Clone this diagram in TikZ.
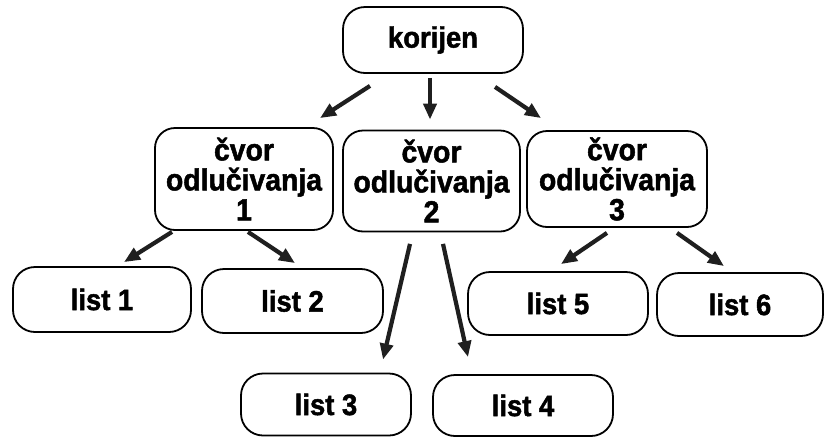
\documentclass[tikz,border=0pt]{standalone}
\usepackage{fontspec}
\setmainfont{Liberation Sans}
\newfontfamily\labelfont[FakeBold=1.6, FakeStretch=0.93]{Liberation Sans Bold}
\usetikzlibrary{arrows.meta}
\tikzset{
  box/.style={draw=black, line width=1.8pt, rounded corners=22pt, align=center,
    inner sep=0pt, font=\labelfont\fontsize{29.5}{30}\selectfont},
  decision/.style={box, rounded corners=20pt, font=\labelfont\fontsize{30.5}{30}\selectfont},
  arr/.style={draw=black!88, line width=4.2pt,
    -{Triangle[length=16pt,width=13pt]}},
}
\begin{document}
\begin{tikzpicture}[x=1pt,y=-1pt]
\useasboundingbox (0,0) rectangle (825,437);
% root
\node[box, minimum width=180pt, minimum height=66pt] (k) at (433,40) {korijen};
% decision nodes
\node[decision, minimum width=178pt, minimum height=102pt] (c1) at (244,179)
  {čvor\\odlučivanja\\1};
\node[decision, minimum width=177pt, minimum height=101pt] (c2) at (431.5,181)
  {čvor\\odlučivanja\\2};
\node[decision, minimum width=180pt, minimum height=96pt] (c3) at (617,179)
  {čvor\\odlučivanja\\3};
% leaves
\node[box, minimum width=178pt, minimum height=65pt] (l1) at (102,299.5) {list 1};
\node[box, minimum width=181pt, minimum height=64pt] (l2) at (292.5,301) {list 2};
\node[box, minimum width=170pt, minimum height=62pt] (l3) at (326,404.5) {list 3};
\node[box, minimum width=180pt, minimum height=61pt] (l4) at (523,405.5) {list 4};
\node[box, minimum width=180pt, minimum height=63pt] (l5) at (558,303.5) {list 5};
\node[box, minimum width=166pt, minimum height=63pt] (l6) at (740,304.5) {list 6};
% connectors
\draw[arr] ([shift={(-63pt,-12pt)}]k.south) -- ([shift={(76pt,9pt)}]c1.north);
\draw[arr] ([shift={(-3pt,-4pt)}]k.south) -- ([shift={(-1.5pt,10pt)}]c2.north);
\draw[arr] ([shift={(62pt,-13pt)}]k.south) -- ([shift={(-76pt,12pt)}]c3.north);
\draw[arr] ([shift={(-72pt,-1pt)}]c1.south) -- ([shift={(22pt,4pt)}]l1.north);
\draw[arr] ([shift={(4pt,-1pt)}]c1.south) -- ([shift={(2.5pt,5pt)}]l2.north);
\draw[arr] ([shift={(-21.5pt,-11.5pt)}]c2.south) -- ([shift={(57pt,13pt)}]l3.north);
\draw[arr] ([shift={(11.5pt,-11.5pt)}]c2.south) -- ([shift={(-55pt,17pt)}]l4.north);
\draw[arr] ([shift={(-10pt,-5pt)}]c3.south) -- ([shift={(3pt,7pt)}]l5.north);
\draw[arr] ([shift={(60pt,-5pt)}]c3.south) -- ([shift={(-16pt,6pt)}]l6.north);
\end{tikzpicture}
\end{document}
